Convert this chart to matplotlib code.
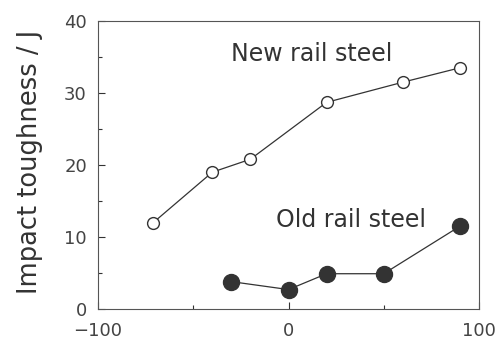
import matplotlib
matplotlib.use("Agg")
import matplotlib.pyplot as plt
from matplotlib.ticker import MultipleLocator, FixedLocator

new_x = [-71, -40, -20, 20, 60, 90]
new_y = [12.0, 19.0, 20.8, 28.7, 31.5, 33.5]
old_x = [-30, 0, 20, 50, 90]
old_y = [3.8, 2.7, 4.9, 4.9, 11.5]
ylabel = "Impact toughness / J"
new_label = "New rail steel"
old_label = "Old rail steel"

fig = plt.figure(figsize=(5.03, 3.42), dpi=100)
ax = fig.add_axes([98/503, 1-309/342, (479-98)/503, (309-21)/342])
ink = "#333333"
ax.plot(new_x, new_y, color=ink, lw=0.9, marker="o", ms=8.5, mfc="white", mec=ink, mew=1.0)
ax.plot(old_x, old_y, color=ink, lw=0.9, marker="o", ms=11.5, mfc=ink, mec=ink)
ax.set_xlim(-100, 100)
ax.set_ylim(0, 40)
ax.xaxis.set_major_locator(FixedLocator([-100, 0, 100]))
ax.xaxis.set_minor_locator(FixedLocator([-50, 50]))
ax.yaxis.set_major_locator(MultipleLocator(10))
ax.yaxis.set_minor_locator(MultipleLocator(5))
ax.tick_params(which="both", direction="in", colors=ink, labelsize=13, width=0.8)
ax.tick_params(which="major", length=5)
ax.tick_params(which="minor", length=3)
ax.tick_params(axis="y", pad=8)
ax.tick_params(axis="x", pad=9)
for lab in ax.get_xticklabels() + ax.get_yticklabels():
    lab.set_color("#444444")
for s in ax.spines.values():
    s.set_color("#555555")
    s.set_linewidth(0.8)
ax.set_ylabel(ylabel, fontsize=18.5, color=ink)
ax.yaxis.set_label_coords(-55/381, 0.512)
ax.text(12, 35.4, new_label, fontsize=17, color=ink, ha="center", va="center")
ax.text(33, 12.4, old_label, fontsize=17, color=ink, ha="center", va="center")
fig.savefig("out.png", dpi=100)
